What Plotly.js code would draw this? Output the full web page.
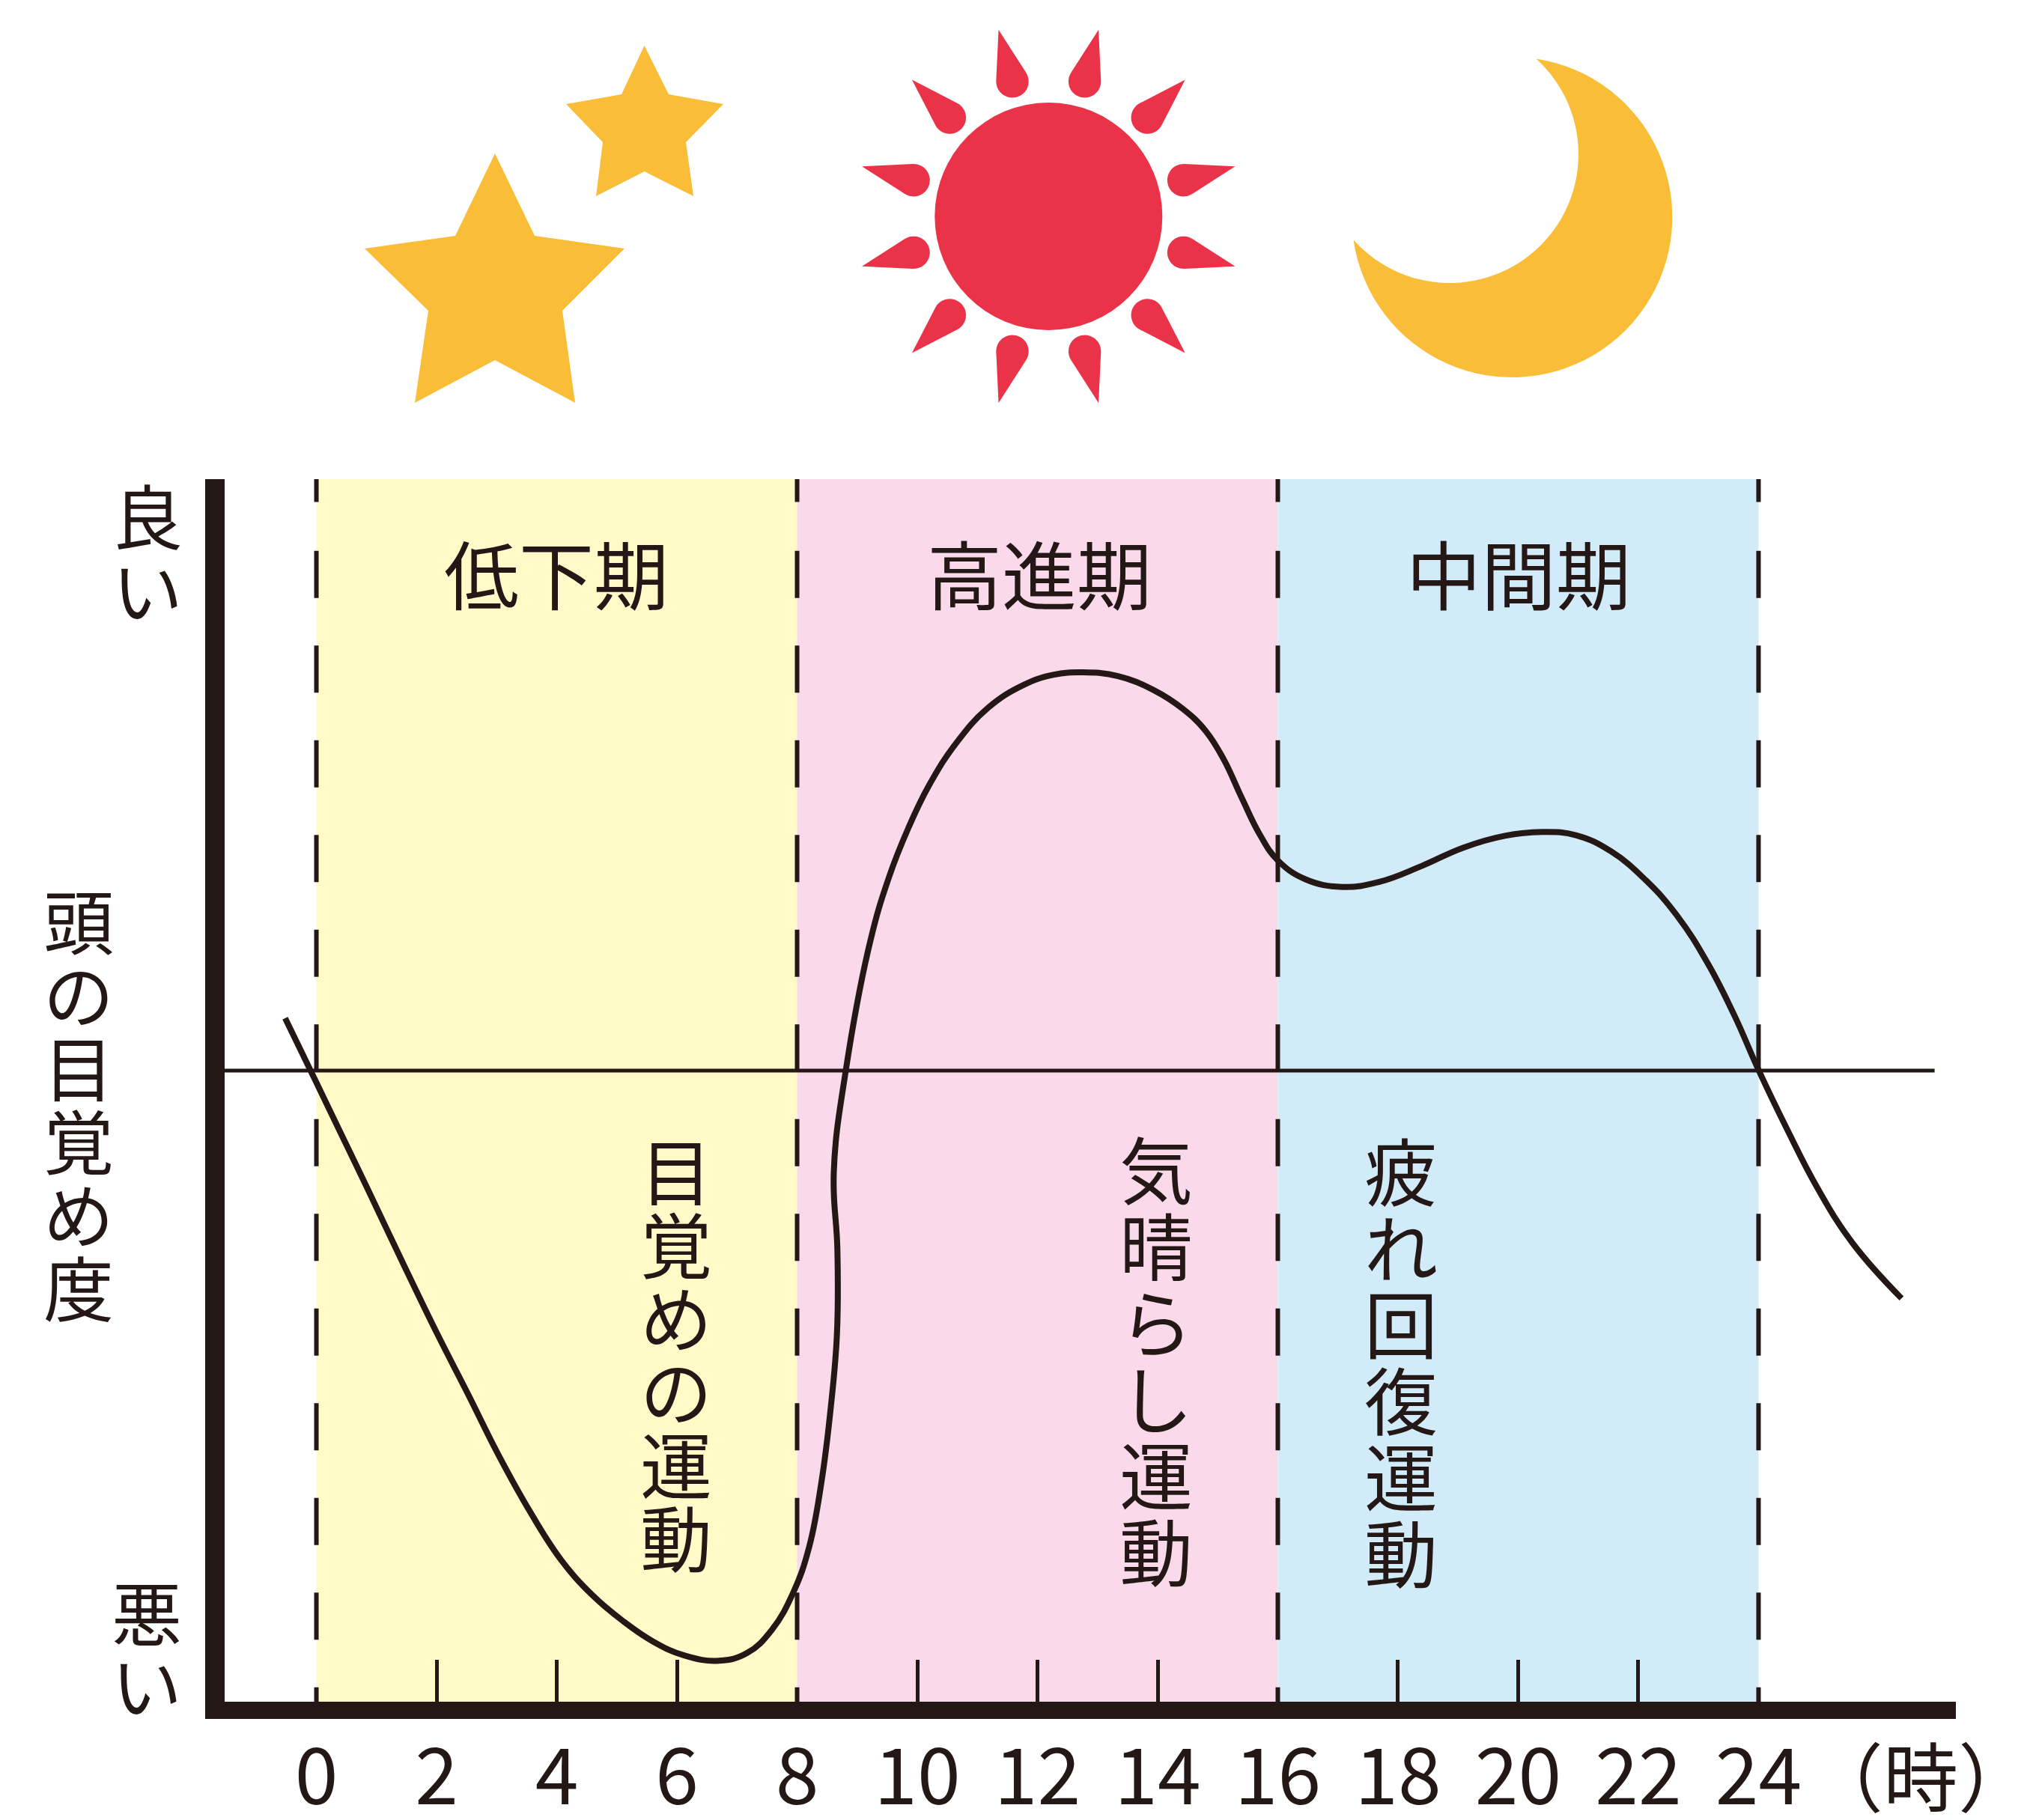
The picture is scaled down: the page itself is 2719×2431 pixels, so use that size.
<!DOCTYPE html>
<html>
<head>
<meta charset="utf-8">
<script src="https://cdn.plot.ly/plotly-3.0.1.min.js"></script>
<style>html,body{margin:0;padding:0;background:#fff;overflow:hidden}#chart{width:2719px;height:2431px}</style>
</head>
<body>
<div id="chart"></div>
<script>
// ---- data ----
const hours = [-0.52,0.0,0.42,0.86,1.43,2.0,2.52,3.03,3.55,4.07,4.58,5.10,5.61,6.13,6.70,7.165,7.58,7.94,8.20,8.405,8.56,8.664,8.67,8.61,8.81,9.21,9.52,9.85,10.19,10.64,11.18,11.77,12.26,12.76,13.34,13.93,14.42,14.8,15.1,15.4,15.7,16.0,16.46,17.07,17.69,18.39,19.08,19.78,20.40,20.96,21.55,22.13,22.64,23.16,23.60,24.0,24.47,24.98,25.57,26.38];
const arousal = [8.3,-1.9,-10.2,-18.9,-30.3,-41.5,-51.2,-60.9,-69.8,-77.5,-83.0,-87.2,-90.5,-92.7,-93.5,-92.3,-88.6,-82.6,-75.5,-65.2,-53.4,-41.5,-28.3,-16.2,0.0,20.2,30.4,38.4,45.1,51.8,57.5,61.1,62.7,63.1,62.5,60.3,57.3,53.8,49.3,43.2,37.4,33.3,30.3,29.1,29.9,32.4,35.3,37.2,37.8,37.3,34.7,30.1,24.6,16.9,8.7,0.1,-9.2,-18.6,-27.4,-36.1];
const tickHours = [0,2,4,6,8,10,12,14,16,18,20,22,24];
const minorHours = [2,4,6,10,12,14,18,20,22];
const periodEdges = [0,8,16,24];
const periodColors = ['#FFFAC8','#F9D9EA','#D2EBF8'];
const periodNames = ['低下期','高進期','中間期'];
const periodLabelX = [743,1388,2028];
const exerciseNames = ['目覚めの運動','気晴らし運動','疲れ回復運動'];
const exerciseX = [903,1544,1871];
const exerciseY = [1568,1566,1568];
const exerciseStep = [98,102,102];
const exerciseSize = [96,98,98];

// ---- page geometry ----
const W = 2719, H = 2431, INK = '#231815', GOLD = '#F9BD38', RED = '#EA3349';
const FONT = '"Noto Sans CJK JP","Noto Sans CJK SC",sans-serif';
const L = 300, R = 2612, T = 640, B = 2273;
const px = x => (x / W).toFixed(5), py = y => (1 - y / H).toFixed(5);
const pathOf = pts => 'M' + pts.map(p => px(p[0]) + ',' + py(p[1])).join('L') + 'Z';
const solid = (path, color) => ({type:'path', xref:'paper', yref:'paper', path, fillcolor:color, line:{width:0}, layer:'above'});

const bigStar = [[661,205],[714,315],[834,332],[751,415],[768,538],[661,481],[554,538],[572,415],[487,332],[608,315]];
const smallStar = [[860.5,61],[893,126],[966,139],[916,190],[926,262],[860.5,229],[796,262],[805,190],[756,139],[830,126]];

function arc(cx, cy, r, a0, a1, n) {
  const out = [];
  for (let i = 0; i <= n; i++) { const a = a0 + (a1 - a0) * i / n; out.push([cx + r * Math.cos(a), cy + r * Math.sin(a)]); }
  return out;
}
const deg = Math.PI / 180;
const sunC = [1400.3, 289], sunR = 152;
function ray(angleDeg) {
  const a = angleDeg * deg, tipD = 258, headD = 186.6, r = 21.7;
  const hx = sunC[0] + headD * Math.cos(a), hy = sunC[1] + headD * Math.sin(a);
  const half = Math.PI / 2 - Math.asin(r / (tipD - headD));
  const pts = [[sunC[0] + tipD * Math.cos(a), sunC[1] + tipD * Math.sin(a)]];
  return pts.concat(arc(hx, hy, r, a + half, a + 2 * Math.PI - half, 24));
}
const rayAngles = [15,45,75,105,135,165,195,225,255,285,315,345];

// crescent: outer circle and inner circle between the two horns
const outer = [2019.3, 290, 214], inner = [1936, 206, 172];
const tipA = [2051.7, 77.3], tipB = [1808.3, 321.7];
const ang = (c, p) => Math.atan2(p[1] - c[1], p[0] - c[0]);
let oa = ang(outer, tipA), ob = ang(outer, tipB);
if (ob < oa) ob += 2 * Math.PI;
let ia = ang(inner, tipB), ib = ang(inner, tipA);
if (ib > ia) ib -= 2 * Math.PI;
const moon = arc(outer[0], outer[1], outer[2], oa, ob, 70).concat(arc(inner[0], inner[1], inner[2], ia, ib, 60));

// ---- shapes ----
const TOP = 93.71, BOTTOM = -100;
const dashes = '30.5px,65.2px' + ',63px,63.5px'.repeat(13);
const shapes = [];
periodColors.forEach((c, i) => shapes.push({type:'rect', xref:'x', yref:'y', layer:'below', x0:periodEdges[i], x1:periodEdges[i+1], y0:BOTTOM, y1:TOP, fillcolor:c, line:{width:0}}));
periodEdges.forEach(h => shapes.push({type:'line', xref:'x', yref:'y', layer:'below', x0:h, x1:h, y0:TOP, y1:BOTTOM, line:{color:INK, width:6, dash:dashes}}));
shapes.push(solid(pathOf(bigStar), GOLD), solid(pathOf(smallStar), GOLD));
shapes.push({type:'circle', xref:'paper', yref:'paper', x0:px(sunC[0]-sunR), x1:px(sunC[0]+sunR), y0:py(sunC[1]+sunR), y1:py(sunC[1]-sunR), fillcolor:RED, line:{width:0}});
rayAngles.forEach(a => shapes.push(solid(pathOf(ray(a)), RED)));
shapes.push(solid(pathOf(moon), GOLD));

// ---- text ----
const ann = [];
const TEXT_DY = -8;
const put = (text, x, y, size) => ann.push({text, xref:'paper', yref:'paper', x:x/W, y:1-(y+TEXT_DY)/H, xanchor:'center', yanchor:'middle', showarrow:false, font:{family:FONT, size, color:INK}});
const putVertical = (str, x, y0, step, size) => Array.from(str).forEach((c, i) => put(c, x, y0 + i * step, size));
periodNames.forEach((t, i) => put(t, periodLabelX[i], 771, 100));
exerciseNames.forEach((t, i) => putVertical(t, exerciseX[i], exerciseY[i], exerciseStep[i], exerciseSize[i]));
putVertical('良い', 197, 694, 99, 94);
putVertical('頭の目覚め度', 105, 1235, 98, 94);
putVertical('悪い', 196, 2159, 97, 94);
put('（時）', 2565, 2376, 100);

// ---- chart ----
const traces = [
  {x:[-1.527,26.93], y:[0,0], mode:'lines', line:{color:INK, width:5}, hoverinfo:'skip'},
  {x:hours, y:arousal, mode:'lines', line:{color:INK, width:8, shape:'spline', smoothing:1.2}, hoverinfo:'skip'}
];
const layout = {
  width:W, height:H, margin:{l:0,r:0,t:0,b:0,pad:0},
  paper_bgcolor:'#fff', plot_bgcolor:'rgba(0,0,0,0)', showlegend:false,
  font:{family:FONT, color:INK},
  xaxis:{domain:[L/W, R/W], range:[-1.527,27.284], tickmode:'array', tickvals:tickHours, ticktext:tickHours.map(String),
    showgrid:false, zeroline:false, showline:true, linecolor:INK, linewidth:23, ticks:'', 
    minor:{tickmode:'array', tickvals:minorHours, ticks:'inside', ticklen:56, tickwidth:5, tickcolor:INK, showgrid:false},
    tickfont:{family:FONT, size:104, color:INK}, ticklabelstandoff:-11, automargin:false},
  yaxis:{domain:[1-B/H, 1-T/H], range:[BOTTOM,TOP], showgrid:false, zeroline:false, showline:true, linecolor:INK, linewidth:26, ticks:'', showticklabels:false, automargin:false},
  shapes, annotations:ann
};
Plotly.newPlot('chart', traces, layout, {displayModeBar:false, responsive:false});
</script>
</body>
</html>
